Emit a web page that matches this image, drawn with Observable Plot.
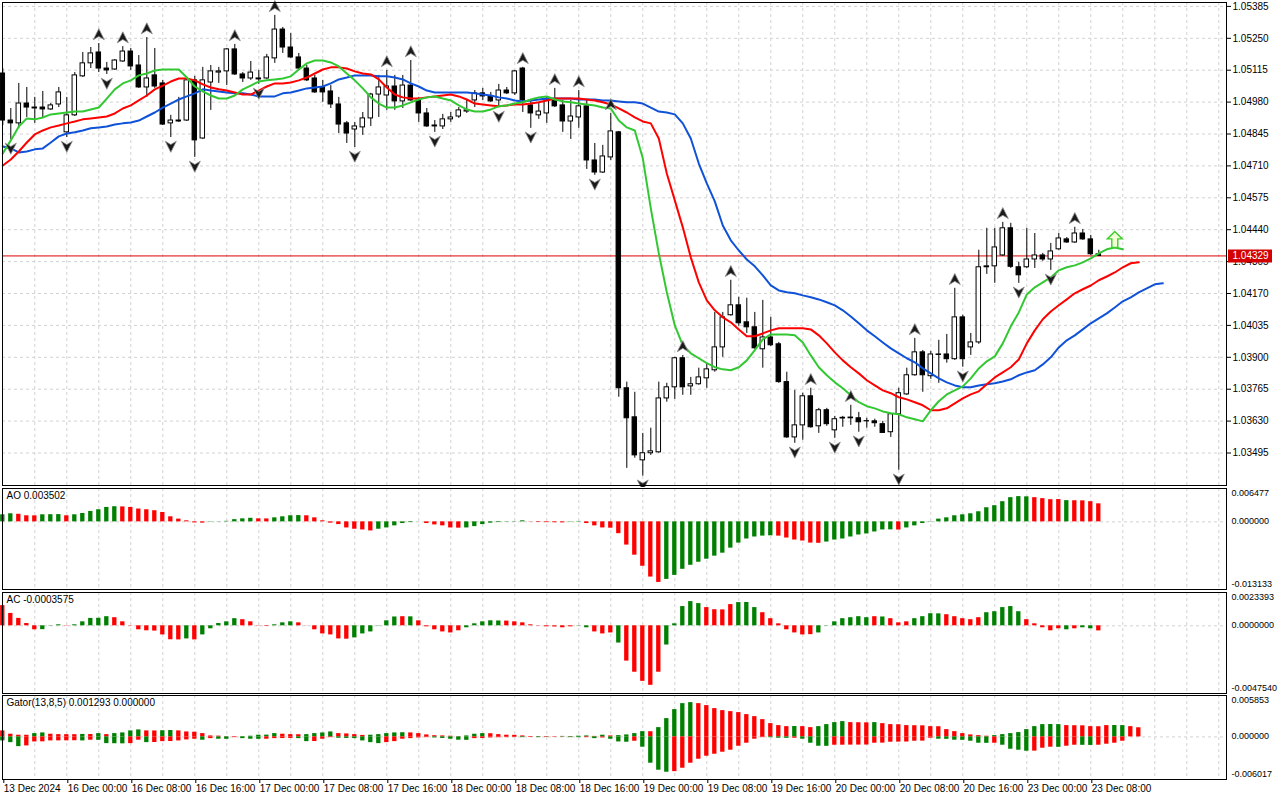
<!DOCTYPE html>
<html><head><meta charset="utf-8">
<script src="https://cdn.jsdelivr.net/npm/d3@7"></script>
<script src="https://cdn.jsdelivr.net/npm/@observablehq/plot@0.6"></script>
<style>
html,body{margin:0;padding:0;background:#fff;}
#chart{position:relative;width:1280px;height:800px;background:#fff;overflow:hidden;}
#chart svg{position:absolute;left:0;}
</style></head><body><div id="chart"></div>
<script>
// ---------- DATA (EURUSD H1, bar index 0 = 13 Dec 2024 16:00) ----------
const opens = [1.05101,1.04902,1.04890,1.04974,1.04957,1.04957,1.04949,1.04970,1.04852,1.04924,
 1.05089,1.05144,1.05190,1.05122,1.05118,1.05152,1.05194,1.05135,1.05042,1.05093,
 1.05059,1.04890,1.04898,1.04902,1.05072,1.04826,1.05063,1.05105,1.05110,1.05203,
 1.05097,1.05080,1.05080,1.05080,1.05165,1.05287,1.05211,1.05169,1.05122,1.05080,
 1.05042,1.05025,1.04970,1.04890,1.04864,1.04873,1.04911,1.05012,1.05008,1.05046,
 1.04983,1.05050,1.04987,1.04932,1.04881,1.04877,1.04907,1.04919,1.04940,1.04987,
 1.05017,1.05004,1.04987,1.05029,1.05017,1.05122,1.04966,1.04924,1.04932,1.04987,
 1.04966,1.04898,1.04915,1.04962,1.04733,1.04682,1.04746,1.04852,1.03769,1.03646,
 1.03464,1.03494,1.03498,1.03726,1.03773,1.03896,1.03777,1.03786,1.03811,1.03845,
 1.03942,1.04078,1.04120,1.04048,1.04027,1.03934,1.03984,1.03955,1.03795,1.03561,
 1.03612,1.03735,1.03608,1.03676,1.03591,1.03644,1.03642,1.03642,1.03629,1.03629,
 1.03617,1.03583,1.03659,1.03743,1.03824,1.03921,1.03820,1.03912,1.03912,1.03892,
 1.04069,1.03942,1.03963,1.04281,1.04285,1.04331,1.04446,1.04281,1.04281,1.04314,
 1.04331,1.04314,1.04357,1.04399,1.04386,1.04424,1.04399,1.04336];
const highs = [1.05122,1.04953,1.05059,1.05042,1.05000,1.05025,1.04974,1.05042,1.05000,1.05105,
 1.05190,1.05211,1.05228,1.05148,1.05160,1.05215,1.05207,1.05177,1.05253,1.05207,
 1.05072,1.04924,1.05000,1.05084,1.05089,1.05127,1.05135,1.05127,1.05207,1.05224,
 1.05105,1.05152,1.05114,1.05182,1.05347,1.05296,1.05270,1.05186,1.05135,1.05093,
 1.05072,1.05050,1.05000,1.04898,1.04894,1.04936,1.05017,1.05093,1.05114,1.05093,
 1.05093,1.05156,1.05000,1.04953,1.04902,1.04928,1.04936,1.04957,1.04987,1.05029,
 1.05038,1.05021,1.05055,1.05042,1.05114,1.05127,1.04987,1.04974,1.05000,1.05038,
 1.04987,1.04987,1.05029,1.04987,1.04805,1.04797,1.04932,1.04856,1.03795,1.03752,
 1.03578,1.03600,1.03795,1.03790,1.03900,1.03908,1.03815,1.03854,1.03875,1.04090,
 1.04090,1.04226,1.04154,1.04150,1.04090,1.04141,1.04069,1.03963,1.03837,1.03760,
 1.03748,1.03769,1.03684,1.03684,1.03650,1.03650,1.03697,1.03667,1.03642,1.03638,
 1.03629,1.03663,1.03769,1.03854,1.03980,1.03929,1.03925,1.03972,1.03997,1.04192,
 1.04078,1.04001,1.04353,1.04446,1.04446,1.04471,1.04467,1.04302,1.04446,1.04424,
 1.04340,1.04382,1.04424,1.04407,1.04450,1.04441,1.04416,1.04353];
const lows = [1.04881,1.04822,1.04869,1.04915,1.04890,1.04911,1.04945,1.04957,1.04830,1.04919,
 1.05084,1.05122,1.05105,1.05097,1.05114,1.05148,1.05114,1.05038,1.05000,1.05038,
 1.04881,1.04830,1.04894,1.04898,1.04746,1.04822,1.04945,1.05059,1.05050,1.05093,
 1.05063,1.05072,1.05055,1.05076,1.05144,1.05186,1.05165,1.05114,1.05067,1.05017,
 1.04979,1.04953,1.04847,1.04805,1.04788,1.04839,1.04877,1.04915,1.04945,1.04945,
 1.04953,1.04983,1.04894,1.04873,1.04852,1.04864,1.04894,1.04911,1.04932,1.04957,
 1.04987,1.04979,1.04957,1.05012,1.05008,1.04936,1.04869,1.04907,1.04890,1.04957,
 1.04852,1.04822,1.04869,1.04695,1.04670,1.04678,1.04733,1.03731,1.03430,1.03473,
 1.03397,1.03485,1.03494,1.03710,1.03722,1.03739,1.03739,1.03782,1.03769,1.03837,
 1.03900,1.04074,1.04031,1.04001,1.03934,1.03854,1.03946,1.03790,1.03557,1.03536,
 1.03549,1.03600,1.03578,1.03608,1.03557,1.03604,1.03612,1.03583,1.03600,1.03604,
 1.03578,1.03561,1.03422,1.03739,1.03820,1.03752,1.03807,1.03790,1.03875,1.03887,
 1.03858,1.03908,1.03955,1.04251,1.04213,1.04327,1.04276,1.04213,1.04276,1.04276,
 1.04306,1.04268,1.04353,1.04382,1.04382,1.04395,1.04331,1.04327];
const closes = [1.04902,1.04890,1.04974,1.04957,1.04953,1.04949,1.04966,1.05021,1.04924,1.05093,
 1.05144,1.05186,1.05122,1.05114,1.05156,1.05194,1.05131,1.05042,1.05080,1.05046,
 1.04885,1.04902,1.04902,1.05072,1.04818,1.05072,1.05110,1.05110,1.05203,1.05097,
 1.05080,1.05105,1.05076,1.05169,1.05287,1.05211,1.05169,1.05122,1.05072,1.05021,
 1.05021,1.04970,1.04885,1.04847,1.04877,1.04911,1.05012,1.05042,1.05046,1.04983,
 1.05050,1.04987,1.04932,1.04877,1.04877,1.04907,1.04915,1.04945,1.04945,1.05017,
 1.05004,1.04983,1.05029,1.05017,1.05110,1.04987,1.04932,1.04940,1.04987,1.04962,
 1.04898,1.04919,1.04962,1.04733,1.04682,1.04750,1.04856,1.03769,1.03642,1.03485,
 1.03494,1.03502,1.03726,1.03773,1.03896,1.03773,1.03786,1.03815,1.03849,1.03942,
 1.04069,1.04120,1.04044,1.04027,1.03938,1.03984,1.03951,1.03795,1.03561,1.03612,
 1.03735,1.03604,1.03676,1.03617,1.03638,1.03641,1.03645,1.03625,1.03630,1.03621,
 1.03580,1.03659,1.03748,1.03824,1.03921,1.03824,1.03912,1.03910,1.03892,1.04069,
 1.03892,1.03963,1.04281,1.04285,1.04365,1.04446,1.04283,1.04247,1.04314,1.04331,
 1.04314,1.04348,1.04403,1.04386,1.04424,1.04399,1.04336,1.04329];

// Alligator lines as drawn (already shifted): lips (green), teeth (red), jaw (blue)
const lips = [1.04763,1.04818,1.04877,1.04911,1.04907,1.04915,1.04928,1.04932,1.04936,1.04940,
 1.04940,1.04949,1.04957,1.04995,1.05034,1.05059,1.05072,1.05093,1.05101,1.05114,
 1.05118,1.05118,1.05118,1.05084,1.05046,1.05025,1.05008,1.04995,1.04995,1.05008,
 1.05034,1.05050,1.05067,1.05072,1.05076,1.05080,1.05089,1.05118,1.05144,1.05156,
 1.05156,1.05148,1.05131,1.05101,1.05072,1.05038,1.05000,1.04974,1.04957,1.04957,
 1.04966,1.04979,1.04991,1.05000,1.05004,1.04995,1.04987,1.04966,1.04949,1.04940,
 1.04940,1.04949,1.04962,1.04966,1.04974,1.04979,1.04991,1.05000,1.05004,1.04991,
 1.04983,1.04979,1.04974,1.04970,1.04966,1.04957,1.04953,1.04902,1.04873,1.04860,
 1.04742,1.04530,1.04340,1.04175,1.04035,1.03951,1.03917,1.03896,1.03875,1.03858,
 1.03849,1.03845,1.03858,1.03887,1.03930,1.03976,1.03997,1.03997,1.03997,1.03993,
 1.03963,1.03908,1.03858,1.03824,1.03794,1.03769,1.03739,1.03710,1.03693,1.03684,
 1.03671,1.03663,1.03659,1.03646,1.03638,1.03629,1.03676,1.03714,1.03743,1.03760,
 1.03777,1.03811,1.03853,1.03883,1.03904,1.03959,1.04031,1.04090,1.04166,1.04196,
 1.04217,1.04238,1.04268,1.04281,1.04289,1.04302,1.04319,1.04340,1.04357,1.04365,
 1.04357];
const teeth = [1.04712,1.04737,1.04771,1.04809,1.04843,1.04860,1.04873,1.04881,1.04890,1.04898,
 1.04907,1.04911,1.04915,1.04919,1.04932,1.04953,1.04966,1.04987,1.05008,1.05034,
 1.05050,1.05067,1.05080,1.05080,1.05072,1.05055,1.05042,1.05034,1.05029,1.05021,
 1.05012,1.05012,1.05029,1.05046,1.05059,1.05059,1.05063,1.05072,1.05084,1.05101,
 1.05118,1.05127,1.05127,1.05122,1.05110,1.05101,1.05097,1.05076,1.05042,1.05012,
 1.05000,1.04995,1.04995,1.05000,1.05004,1.05008,1.05012,1.05004,1.04991,1.04974,
 1.04970,1.04966,1.04962,1.04966,1.04970,1.04970,1.04974,1.04979,1.04987,1.04995,
 1.04995,1.04995,1.04995,1.04991,1.04987,1.04979,1.04970,1.04953,1.04936,1.04915,
 1.04898,1.04890,1.04826,1.04678,1.04564,1.04450,1.04323,1.04217,1.04141,1.04099,
 1.04069,1.04048,1.04018,1.03989,1.03989,1.04001,1.04014,1.04023,1.04023,1.04023,
 1.04023,1.04018,1.03993,1.03959,1.03921,1.03887,1.03858,1.03832,1.03803,1.03781,
 1.03760,1.03748,1.03731,1.03722,1.03710,1.03697,1.03676,1.03676,1.03684,1.03705,
 1.03726,1.03743,1.03756,1.03786,1.03815,1.03836,1.03858,1.03891,1.03959,1.04014,
 1.04061,1.04094,1.04120,1.04145,1.04171,1.04188,1.04204,1.04226,1.04242,1.04259,
 1.04281,1.04298,1.04302];
const jaw = [1.04792,1.04784,1.04767,1.04771,1.04780,1.04784,1.04809,1.04835,1.04847,1.04852,
 1.04860,1.04869,1.04873,1.04877,1.04885,1.04890,1.04894,1.04902,1.04919,1.04936,
 1.04957,1.04974,1.04991,1.05004,1.05017,1.05034,1.05029,1.05025,1.05021,1.05017,
 1.05017,1.05012,1.05004,1.05004,1.05004,1.05017,1.05021,1.05029,1.05038,1.05042,
 1.05046,1.05059,1.05076,1.05084,1.05093,1.05093,1.05093,1.05089,1.05089,1.05084,
 1.05076,1.05059,1.05046,1.05029,1.05021,1.05021,1.05021,1.05021,1.05021,1.05017,
 1.05012,1.05008,1.05000,1.04995,1.04987,1.04983,1.04987,1.04991,1.04995,1.04995,
 1.04995,1.04995,1.04991,1.04991,1.04991,1.04987,1.04987,1.04983,1.04979,1.04979,
 1.04974,1.04957,1.04940,1.04936,1.04928,1.04890,1.04826,1.04720,1.04636,1.04560,
 1.04458,1.04395,1.04352,1.04314,1.04285,1.04247,1.04204,1.04183,1.04175,1.04171,
 1.04162,1.04154,1.04145,1.04133,1.04120,1.04099,1.04073,1.04044,1.04014,1.03989,
 1.03963,1.03938,1.03917,1.03896,1.03879,1.03853,1.03832,1.03811,1.03794,1.03781,
 1.03773,1.03773,1.03781,1.03786,1.03790,1.03798,1.03807,1.03824,1.03836,1.03845,
 1.03870,1.03900,1.03942,1.03972,1.03993,1.04018,1.04044,1.04065,1.04086,1.04111,
 1.04137,1.04154,1.04175,1.04192,1.04209,1.04213];

const fractalUpBars = [12,15,18,29,34,48,51,65,69,72,76,85,91,101,106,114,119,125,134];
const fractalDownBars = [1,8,13,21,24,32,44,54,62,66,74,80,99,104,107,112,120,127,131];
const signalBars = [139];
const signalPrices = [1.04399];
const lastPrice = 1.04329;

const aoValues = [0.00137,0.00157,0.00147,0.00118,0.00117,0.00137,0.00139,0.00141,0.00118,0.00137,
 0.00163,0.00202,0.00235,0.00280,0.00294,0.00290,0.00280,0.00249,0.00235,0.00216,
 0.00182,0.00098,0.00053,0.00020,-0.00020,-0.00024,-0.00006,-0.00004,0.00010,0.00043,
 0.00059,0.00069,0.00059,0.00057,0.00078,0.00098,0.00118,0.00122,0.00118,0.00078,
 0.00020,-0.00025,-0.00053,-0.00118,-0.00143,-0.00157,-0.00176,-0.00143,-0.00118,-0.00078,
 -0.00033,-0.00014,-0.00001,-0.00033,-0.00059,-0.00078,-0.00118,-0.00122,-0.00118,-0.00092,
 -0.00053,-0.00025,-0.00014,-0.00006,0.00006,0.00020,0.00004,-0.00012,-0.00015,-0.00017,
 -0.00019,0.00006,0.00008,-0.00033,-0.00078,-0.00118,-0.00123,-0.00229,-0.00451,-0.00647,
 -0.00862,-0.01072,-0.01176,-0.01117,-0.01039,-0.00921,-0.00843,-0.00784,-0.00725,-0.00666,
 -0.00608,-0.00510,-0.00412,-0.00333,-0.00294,-0.00276,-0.00271,-0.00277,-0.00314,-0.00353,
 -0.00372,-0.00412,-0.00416,-0.00392,-0.00353,-0.00333,-0.00294,-0.00255,-0.00235,-0.00196,
 -0.00157,-0.00155,-0.00159,-0.00118,-0.00078,-0.00033,0.00006,0.00053,0.00078,0.00118,
 0.00137,0.00157,0.00196,0.00274,0.00314,0.00392,0.00470,0.00490,0.00486,0.00470,
 0.00451,0.00431,0.00433,0.00412,0.00410,0.00408,0.00392,0.003502];
const aoColors = "ggrrrgggrggggggrrrrrrrrrrrggggggrrggggrrrrrrrrrggggggrrrrrggggggggrrrrrggrrrrrrrrrrggggggggggggggrrrrrrgggggggggrggggggggggggggggrrrrgrrrrr";

const acValues = [0.00142,0.00087,0.00052,0.00016,-0.00028,-0.00027,-0.00002,0.00007,-0.00002,0.00007,
 0.00028,0.00052,0.00053,0.00064,0.00057,0.00028,-0.00002,-0.00028,-0.00035,-0.00037,
 -0.00064,-0.00098,-0.00099,-0.00092,-0.00099,-0.00064,-0.00021,0.00016,0.00028,0.00050,
 0.00043,0.00028,-0.00002,-0.00004,0.00007,0.00021,0.00028,0.00021,0.00001,-0.00028,
 -0.00057,-0.00064,-0.00092,-0.00094,-0.00085,-0.00057,-0.00043,0.00002,0.00035,0.00062,
 0.00064,0.00063,0.00035,-0.00007,-0.00028,-0.00043,-0.00050,-0.00035,-0.00014,0.00014,
 0.00028,0.00035,0.00034,0.00033,0.00028,0.00021,0.00007,-0.00002,-0.00007,-0.00008,
 -0.00014,-0.00007,-0.00002,-0.00014,-0.00043,-0.00057,-0.00050,-0.00121,-0.00248,-0.00326,
 -0.00390,-0.00418,-0.00326,-0.00135,0.00014,0.00135,0.00170,0.00156,0.00128,0.00113,
 0.00112,0.00149,0.00163,0.00164,0.00128,0.00092,0.00050,0.00014,-0.00028,-0.00050,
 -0.00064,-0.00062,-0.00050,0.00002,0.00028,0.00050,0.00057,0.00064,0.00057,0.00064,
 0.00062,0.00050,0.00021,0.00028,0.00050,0.00064,0.00085,0.00084,0.00078,0.00064,
 0.00050,0.00043,0.00057,0.00092,0.00099,0.00128,0.00135,0.00099,0.00043,0.00014,
 -0.00014,-0.00035,-0.00021,-0.00028,-0.00021,-0.00014,-0.00021,-0.0003575];
const acColors = "rrrrrgggrgggggrrrrrrrrrgrgggggrrrrgggrrrrrrrggggggrgrrrrrrgggggrrrrrrrrrggrrrgrrrrrgggggrrrrgggrrrrrrrgggggggrgrrrggggrrrrrgggggrrrrrgrggrr";

const gatorUpper = [0.000848,0.000382,0.00024,0.000235,0.000466,0.000565,0.000382,0.000325,0.00032,0.000315,
 0.000353,0.000339,0.000466,0.000325,0.000466,0.000565,0.000848,0.000989,0.000848,0.000845,
 0.000876,0.000904,0.000848,0.000707,0.000664,0.000466,0.000141,0.000113,0.000042,0.000014,
 0.000042,0.000099,0.00024,0.000254,0.000466,0.000382,0.000325,0.000311,0.000325,0.000466,
 0.000565,0.000707,0.000466,0.000424,0.000325,0.000212,0.00024,0.000325,0.000466,0.000565,
 0.000593,0.000565,0.000466,0.000283,0.00017,0.000141,0.000099,0.000042,0.000141,0.000382,
 0.000466,0.000452,0.000325,0.00024,0.000226,0.000141,0.000042,0.000028,0.000042,0.000028,
 0.000071,0.000042,0.000099,0.000141,0.000071,0.00024,0.000141,0.000184,0.000283,0.000466,
 0.000749,0.000735,0.001314,0.002586,0.003857,0.004705,0.004847,0.004705,0.004423,0.003999,
 0.003716,0.003575,0.003434,0.003151,0.002868,0.002444,0.001879,0.001597,0.001455,0.00147,
 0.001455,0.001314,0.001455,0.001738,0.002021,0.002162,0.002021,0.002006,0.001992,0.002021,
 0.001879,0.001738,0.001724,0.001597,0.001583,0.001568,0.001455,0.001441,0.001031,0.000749,
 0.000466,0.000283,0.000184,0.000099,0.000184,0.000325,0.000466,0.000608,0.001031,0.001455,
 0.001738,0.001752,0.001738,0.001597,0.001583,0.001568,0.001455,0.001441,0.001597,0.001611,
 0.001597,0.001455,0.001293];
const gatorUpperColors = "rrrrggrrrrgrgrggggrrggrrrrrrrrgggggrrrggggrrrrgggggrrrrrrrgggrrrrrrrgrgrggrgrggggrgggggrrrrrrrrrrrrgrrggggrrrgrrrrrrrrrrrrrrgggggggggrrrrrrggrrr";
const gatorLower = [-0.000565,-0.000805,-0.001371,-0.001272,-0.000707,-0.000692,-0.000565,-0.000558,-0.000551,-0.000537,
 -0.000565,-0.000466,-0.00048,-0.000947,-0.000961,-0.000975,-0.000947,-0.000466,-0.000805,-0.000791,
 -0.000664,-0.00065,-0.000565,-0.000424,-0.000325,-0.000466,-0.00024,-0.000325,-0.000339,-0.000099,
 -0.00024,-0.000325,-0.000339,-0.000325,-0.00024,-0.000226,-0.000212,-0.00024,-0.000664,-0.00065,
 -0.000325,-0.000099,-0.000184,-0.000212,-0.00024,-0.000565,-0.000805,-0.000947,-0.000805,-0.000664,
 -0.000325,-0.00024,-0.000141,-0.000099,-0.000141,-0.000212,-0.000325,-0.000466,-0.00048,-0.00024,
 -0.000226,-0.000141,-0.000113,-0.000099,-0.000085,-0.000099,-0.000071,-0.000099,-0.000071,-0.000042,
 -0.000028,-0.000099,-0.000106,-0.000099,-0.00024,-0.000141,-0.000325,-0.000707,-0.000749,-0.000608,
 -0.001455,-0.003716,-0.004705,-0.004988,-0.004903,-0.004423,-0.003716,-0.003151,-0.002727,-0.002444,
 -0.002162,-0.001879,-0.001314,-0.00089,-0.000325,-0.000099,-0.000113,-0.000184,-0.000198,-0.000184,
 -0.000325,-0.00089,-0.001314,-0.001328,-0.001173,-0.00117,-0.001159,-0.001155,-0.001145,-0.00089,
 -0.000876,-0.000749,-0.000735,-0.000721,-0.000608,-0.000593,-0.000184,-0.000325,-0.000339,-0.000466,
 -0.00048,-0.000608,-0.00089,-0.000904,-0.00089,-0.001173,-0.001738,-0.001879,-0.002021,-0.002006,
 -0.001597,-0.001455,-0.00147,-0.001314,-0.001173,-0.001187,-0.001201,-0.001173,-0.001031,-0.00089,
 -0.000608];
const gatorLowerColors = "gggrrrrrrrgrggggrrgrrrrrrgrggrgggrrrrggrrrggggggrrrrrrgggggrrrrrrgrgrrrggrgrgggrggggrrrrrrrrrrrrgggrggggrrrrrrrrrrrrrgggggggrggggrrrgrrggrrrr";

const priceTicks = [1.05385,1.05250,1.05115,1.04980,1.04845,1.04710,1.04575,1.04440,1.04305,1.04170,1.04035,1.03900,1.03765,1.03630,1.03495];
const timeBars = [0,8,16,24,32,40,48,56,64,72,80,88,96,104,112,120,128,136];
const timeLabels = ["13 Dec 2024","16 Dec 00:00","16 Dec 08:00","16 Dec 16:00","17 Dec 00:00","17 Dec 08:00","17 Dec 16:00","18 Dec 00:00","18 Dec 08:00","18 Dec 16:00","19 Dec 00:00","19 Dec 08:00","19 Dec 16:00","20 Dec 00:00","20 Dec 08:00","20 Dec 16:00","23 Dec 00:00","23 Dec 08:00"];
const aoScale = [0.006477, 0, -0.013133];
const aoScaleLabels = ["0.006477","0.000000","-0.013133"];
const acScale = [0.0023393, 0, -0.004754];
const acScaleLabels = ["0.0023393","0.0000000","-0.0047540"];
const gatorScale = [0.005853, 0, -0.006017];
const gatorScaleLabels = ["0.005853","0.000000","-0.006017"];

// ---------- STYLE / LAYOUT ----------
const GREEN = "#008000", RED = "#ff0000";
const FONT = "font-family:'Liberation Sans',Arial,sans-serif;font-size:10px;background:#fff;color:#000;overflow:visible;";
const xDomain = [-0.0375, 152.9625];
const gridBars = d3.range(4, 153, 4);
const grid = {stroke: "#d2d2d2", strokeDasharray: "3,3"};
const col = c => c === "g" ? GREEN : RED;
const chart = document.getElementById("chart");
function place(svg, top) { svg.style.top = top + "px"; chart.appendChild(svg); }

const upArrow = {draw(c, size) { const s = Math.sqrt(size) / 2;
  c.moveTo(0, -1.05 * s); c.lineTo(1.0 * s, 0.95 * s); c.lineTo(0, 0.35 * s); c.lineTo(-1.0 * s, 0.95 * s); c.closePath(); }};
const downArrow = {draw(c, size) { const s = Math.sqrt(size) / 2;
  c.moveTo(0, 1.05 * s); c.lineTo(1.0 * s, -0.95 * s); c.lineTo(0, -0.35 * s); c.lineTo(-1.0 * s, -0.95 * s); c.closePath(); }};
const signalArrow = {draw(c) {
  c.moveTo(0, -8); c.lineTo(7.5, -0.5); c.lineTo(3, -0.5); c.lineTo(3, 8); c.lineTo(-3, 8); c.lineTo(-3, -0.5); c.lineTo(-7.5, -0.5); c.closePath(); }};
const priceTag = {draw(c) { c.rect(1.5, -6.5, 44, 13); }};

const candles = opens.map((o, i) => ({i, open: o, high: highs[i], low: lows[i], close: closes[i]}));
const series = arr => arr.map((v, i) => ({i, v}));

// ---------- MAIN PANE ----------
place(Plot.plot({
  width: 1280, height: 487, marginLeft: 2, marginRight: 54, marginTop: 2, marginBottom: 2,
  style: FONT,
  x: {type: "linear", domain: xDomain, axis: null},
  y: {domain: [1.033575, 1.054015], axis: null},
  marks: [
    Plot.ruleX(gridBars, grid),
    Plot.ruleY(priceTicks, grid),
    Plot.ruleY([lastPrice], {stroke: "#e00000"}),
    Plot.ruleX(candles, {x: "i", y1: "low", y2: "high", stroke: "#000"}),
    Plot.rect(candles, {x1: d => d.i - 0.28, x2: d => d.i + 0.28, y1: "open", y2: "close",
      fill: d => d.close > d.open ? "#fff" : "#000", stroke: "#000", strokeWidth: 1}),
    Plot.line(series(jaw), {x: "i", y: "v", stroke: "#0f52d8", strokeWidth: 2}),
    Plot.line(series(teeth), {x: "i", y: "v", stroke: "#ff0000", strokeWidth: 2}),
    Plot.line(series(lips), {x: "i", y: "v", stroke: "#32c832", strokeWidth: 2}),
    Plot.dot(fractalUpBars, {x: d => d, y: d => highs[d], symbol: upArrow, r: 6.2, fill: "#1a1a1a", stroke: "#8a8a8a", strokeWidth: 0.8, dy: -9}),
    Plot.dot(fractalDownBars, {x: d => d, y: d => lows[d], symbol: downArrow, r: 6.2, fill: "#1a1a1a", stroke: "#8a8a8a", strokeWidth: 0.8, dy: 9}),
    Plot.dot(signalBars, {x: d => d, y: (d, k) => signalPrices[k], symbol: signalArrow, r: 5, fill: "#f4ffd8", stroke: "#3ccf2a", strokeWidth: 1.4}),
    Plot.frame({stroke: "#000"}),
    Plot.axisY(priceTicks, {anchor: "right", tickSize: 4, tickPadding: 2, tickFormat: d => d.toFixed(5), label: null}),
    Plot.dot([lastPrice], {y: d => d, frameAnchor: "right", symbol: priceTag, fill: "#d40000", stroke: "none"}),
    Plot.text([lastPrice], {y: d => d, frameAnchor: "right", text: d => d.toFixed(5), textAnchor: "start", dx: 6, fill: "#fff"})
  ]
}), 0);

// ---------- SUB PANES ----------
function scaleText(vals, labels) {
  const dys = [5, -1, -5];
  return vals.map((v, k) => Plot.text([v], {y: d => d, frameAnchor: "right", text: () => labels[k], textAnchor: "start", dx: 5, dy: dys[k], fontSize: 9}));
}
function histo(vals, colors) {
  return Plot.rect(vals.map((v, i) => ({i, v, c: colors[i]})),
    {x1: d => d.i - 0.27, x2: d => d.i + 0.27, y1: 0, y2: "v", fill: d => col(d.c)});
}

place(Plot.plot({
  width: 1280, height: 104, marginLeft: 2, marginRight: 54, marginTop: 1, marginBottom: 2,
  style: FONT,
  x: {type: "linear", domain: xDomain, axis: null},
  y: {domain: [aoScale[2], aoScale[0]], axis: null},
  marks: [
    Plot.ruleX(gridBars, grid),
    Plot.ruleY([0], grid),
    histo(aoValues, aoColors),
    Plot.frame({stroke: "#000"}),
    ...scaleText(aoScale, aoScaleLabels),
    Plot.text(["AO " + aoValues[aoValues.length - 1].toFixed(6)], {frameAnchor: "top-left", textAnchor: "start", lineAnchor: "top", dx: 4, dy: 3})
  ]
}), 487);

place(Plot.plot({
  width: 1280, height: 103, marginLeft: 2, marginRight: 54, marginTop: 1, marginBottom: 1,
  style: FONT,
  x: {type: "linear", domain: xDomain, axis: null},
  y: {domain: [acScale[2], acScale[0]], axis: null},
  marks: [
    Plot.ruleX(gridBars, grid),
    Plot.ruleY([0], grid),
    histo(acValues, acColors),
    Plot.frame({stroke: "#000"}),
    ...scaleText(acScale, acScaleLabels),
    Plot.text(["AC " + acValues[acValues.length - 1].toFixed(7)], {frameAnchor: "top-left", textAnchor: "start", lineAnchor: "top", dx: 4, dy: 3})
  ]
}), 591);

const timeLabelMap = new Map(timeBars.map((b, k) => [b, timeLabels[k]]));
place(Plot.plot({
  width: 1280, height: 106, marginLeft: 2, marginRight: 54, marginTop: 1, marginBottom: 21,
  style: FONT,
  x: {type: "linear", domain: xDomain, axis: null},
  y: {domain: [gatorScale[2], gatorScale[0]], axis: null},
  marks: [
    Plot.ruleX(gridBars, grid),
    Plot.ruleY([0], grid),
    histo(gatorUpper, gatorUpperColors),
    histo(gatorLower, gatorLowerColors),
    Plot.frame({stroke: "#000"}),
    ...scaleText(gatorScale, gatorScaleLabels),
    Plot.text(["Gator(13,8,5) " + gatorUpper[gatorUpper.length - 1].toFixed(6) + " 0.000000"], {frameAnchor: "top-left", textAnchor: "start", lineAnchor: "top", dx: 4, dy: 3}),
    Plot.axisX(timeBars, {anchor: "bottom", tickSize: 4, tickPadding: 1, tickFormat: d => timeLabelMap.get(d), textAnchor: "start", dx: 1, label: null})
  ]
}), 694);
</script></body></html>
